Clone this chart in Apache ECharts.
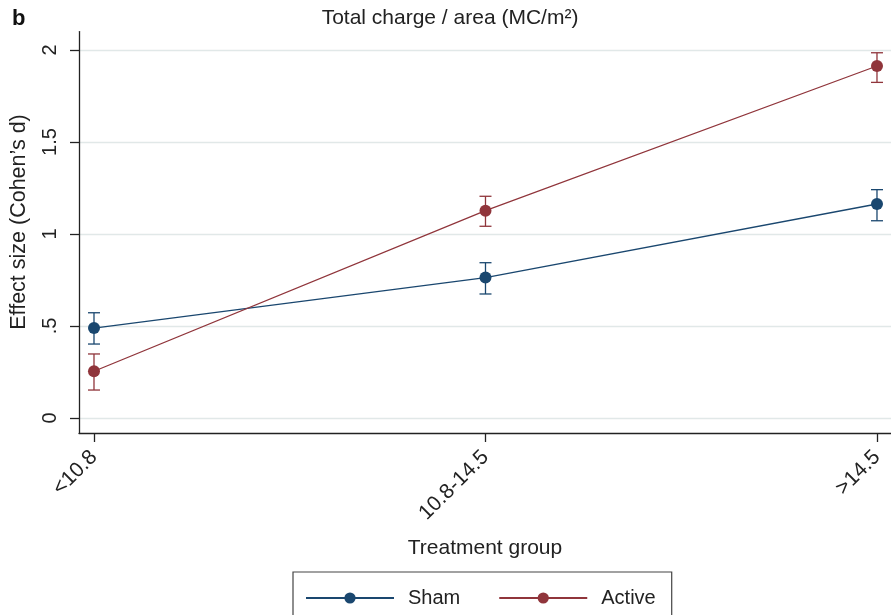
<!DOCTYPE html>
<html>
<head>
<meta charset="utf-8">
<script src="https://cdn.jsdelivr.net/npm/echarts@6/dist/echarts.min.js"></script>
<style>
  html, body { margin: 0; padding: 0; background: #fff; }
  #chart { width: 891px; height: 615px; }
</style>
</head>
<body>
<div id="chart"></div>
<script>
// Treatment groups (total charge per area, MC/m²)
const categories = ['<10.8', '10.8-14.5', '>14.5'];

// Effect sizes (Cohen's d) with confidence limits
const shamMean = [0.489, 0.763, 1.163];
const shamLow = [0.402, 0.674, 1.072];
const shamHigh = [0.572, 0.844, 1.241];

const activeMean = [0.254, 1.127, 1.913];
const activeLow = [0.152, 1.042, 1.824];
const activeHigh = [0.348, 1.205, 1.985];

const yTicks = [0, 0.5, 1, 1.5, 2];
const yTickLabels = ['0', '.5', '1', '1.5', '2'];

const SHAM = '#1a476f';
const ACTIVE = '#90353b';
const FONT = 'Liberation Sans, Arial, Helvetica, sans-serif';

const chart = echarts.init(document.getElementById('chart'), null, { renderer: 'canvas' });

function errorBars(name, color, low, high) {
  return {
    name: name,
    type: 'custom',
    silent: true,
    z: 2,
    data: categories.map((c, i) => [i, low[i], high[i]]),
    encode: { x: 0, y: [1, 2] },
    renderItem: function (params, api) {
      const x = api.value(0);
      const pLow = api.coord([x, api.value(1)]);
      const pHigh = api.coord([x, api.value(2)]);
      const half = 6;
      const style = { stroke: color, lineWidth: 1.3, fill: null };
      return {
        type: 'group',
        children: [
          { type: 'line', shape: { x1: pLow[0], y1: pLow[1], x2: pHigh[0], y2: pHigh[1] }, style: style },
          { type: 'line', shape: { x1: pLow[0] - half, y1: pLow[1], x2: pLow[0] + half, y2: pLow[1] }, style: style },
          { type: 'line', shape: { x1: pHigh[0] - half, y1: pHigh[1], x2: pHigh[0] + half, y2: pHigh[1] }, style: style }
        ]
      };
    }
  };
}

function meanLine(name, color, values) {
  return {
    name: name,
    type: 'line',
    z: 3,
    data: categories.map((c, i) => [i, values[i]]),
    symbol: 'circle',
    symbolSize: 12,
    showSymbol: true,
    lineStyle: { color: color, width: 1.3 },
    itemStyle: { color: color },
    emphasis: { disabled: true }
  };
}

chart.setOption({
  animation: false,
  backgroundColor: '#fff',
  textStyle: { fontFamily: FONT },
  graphic: [
    {
      type: 'text', left: 12, top: 8,
      style: { text: 'b', font: 'bold 22px ' + FONT, fill: '#111' }
    },
    {
      type: 'text', x: 450, y: 18,
      style: { text: 'Total charge / area (MC/m²)', font: '21px ' + FONT, fill: '#222',
               textAlign: 'center', textVerticalAlign: 'middle' }
    },
    {
      // y-axis title, rotated to read bottom to top
      type: 'text', x: 19, y: 222, rotation: Math.PI / 2,
      style: { text: 'Effect size (Cohen’s d)', font: '21.5px ' + FONT, fill: '#222',
               textAlign: 'center', textVerticalAlign: 'middle' }
    }
  ],
  grid: { left: 79, right: 0, top: 31.6, bottom: 182 },
  xAxis: {
    type: 'value',
    min: -0.0383,
    max: 2.0358,
    name: 'Treatment group',
    nameLocation: 'middle',
    nameGap: 105,
    nameTextStyle: { fontSize: 21, color: '#222', fontFamily: FONT },
    axisLine: { show: true, onZero: false, lineStyle: { color: '#222', width: 1.3 } },
    axisTick: { show: true, customValues: [0, 1, 2], length: 9, lineStyle: { color: '#222', width: 1.3 } },
    axisLabel: {
      customValues: [0, 1, 2],
      rotate: 45,
      margin: 21,
      fontSize: 21,
      color: '#222',
      fontFamily: FONT,
      formatter: function (v) { return categories[Math.round(v)]; }
    },
    splitLine: { show: false }
  },
  yAxis: {
    type: 'value',
    min: -0.0815,
    max: 2.1,
    axisLine: { show: true, onZero: false, lineStyle: { color: '#222', width: 1.3 } },
    axisTick: { show: true, customValues: yTicks, length: 9, lineStyle: { color: '#222', width: 1.3 } },
    axisLabel: {
      customValues: yTicks,
      rotate: 90,
      margin: 19,
      fontSize: 20,
      color: '#222',
      fontFamily: FONT,
      formatter: function (v) {
        const i = yTicks.findIndex(t => Math.abs(t - v) < 1e-9);
        return i >= 0 ? yTickLabels[i] : '';
      }
    },
    splitLine: { show: true, lineStyle: { color: '#e1e8e8', width: 1.3 } }
  },
  legend: {
    data: ['Sham', 'Active'],
    left: 293,
    top: 572,
    padding: [16, 16, 16, 12],
    itemWidth: 88,
    itemHeight: 14,
    itemGap: 38,
    borderColor: '#444',
    borderWidth: 1.2,
    textStyle: { fontSize: 20, color: '#222', fontFamily: FONT, padding: [0, 0, 0, 9] }
  },
  series: [
    errorBars('Sham CI', SHAM, shamLow, shamHigh),
    errorBars('Active CI', ACTIVE, activeLow, activeHigh),
    meanLine('Sham', SHAM, shamMean),
    meanLine('Active', ACTIVE, activeMean)
  ]
});
</script>
</body>
</html>
